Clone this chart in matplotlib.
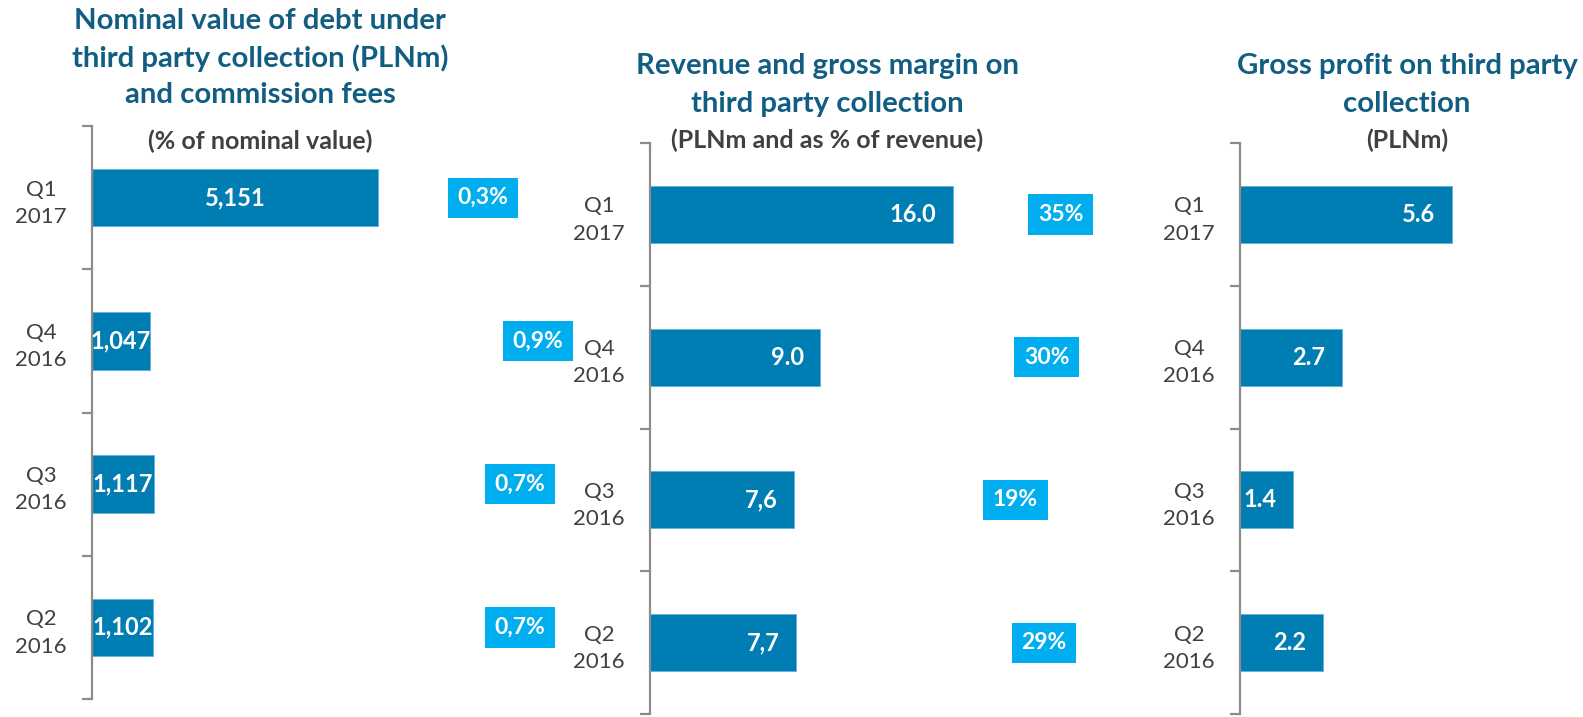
import matplotlib
matplotlib.use('Agg')
import matplotlib.pyplot as plt

W, H = 1583, 717
BAR = '#007DB2'
BOX = '#00AEEF'
TITLE = '#115E82'
GREY = '#404040'
AXIS = '#8C8C8C'

plt.rcParams['font.family'] = ['Lato', 'DejaVu Sans']

quarters = ['Q1\n2017', 'Q4\n2016', 'Q3\n2016', 'Q2\n2016']

nominal_debt = [5151, 1047, 1117, 1102]
nominal_labels = ['5,151', '1,047', '1,117', '1,102']
commission_pct = [0.3, 0.9, 0.7, 0.7]
commission_labels = ['0,3%', '0,9%', '0,7%', '0,7%']

revenue = [16.0, 9.0, 7.6, 7.7]
revenue_labels = ['16.0', '9.0', '7,6', '7,7']
margin_pct = [35, 30, 19, 29]
margin_labels = ['35%', '30%', '19%', '29%']

gross_profit = [5.6, 2.7, 1.4, 2.2]
gross_profit_labels = ['5.6', '2.7', '1.4', '2.2']

titles = [
    (['Nominal value of debt under', 'third party collection (PLNm)', 'and commission fees'],
     '(% of nominal value)', 260, [21, 58, 95], 141),
    (['Revenue and gross margin on', 'third party collection'],
     '(PLNm and as % of revenue)', 827, [66, 104], 140),
    (['Gross profit on third party', 'collection'],
     '(PLNm)', 1407, [66, 104], 140),
]

fig = plt.figure(figsize=(W / 100, H / 100), dpi=100)


def panel(left, right, top, bottom, xmax, values, labels, centred,
          pct=None, pct_labels=None, pct_lim=None):
    ax = fig.add_axes([left / W, 1 - bottom / H, (right - left) / W, (bottom - top) / H])
    pos = list(range(len(values)))
    ax.barh(pos, values, height=0.4, color=BAR, edgecolor='#5FB3DA', linewidth=0.6)
    ax.set_xlim(0, xmax)
    ax.set_ylim(len(values) - 0.5, -0.5)
    for s in ['top', 'right', 'bottom']:
        ax.spines[s].set_visible(False)
    ax.spines['left'].set_color(AXIS)
    ax.spines['left'].set_linewidth(1.6)
    ax.set_xticks([])
    ax.set_yticks(pos)
    ax.set_yticklabels(quarters, fontsize=16, color=GREY)
    for t in ax.get_yticklabels():
        t.set_multialignment('center')
        t.set_linespacing(1.45)
    ax.set_yticks([p - 0.5 for p in pos] + [pos[-1] + 0.5], minor=True)
    ax.tick_params(axis='y', which='major', length=0, pad=18)
    ax.tick_params(axis='y', which='minor', length=7, width=1.6, color=AXIS)
    for i, (v, lbl) in enumerate(zip(values, labels)):
        if centred:
            ax.text(v / 2, i, lbl, ha='center', va='center', color='white',
                    fontsize=17, fontweight='bold')
        else:
            ax.annotate(lbl, (v, i), xytext=(-12, 0), textcoords='offset points',
                        ha='right', va='center', color='white',
                        fontsize=17, fontweight='bold')
    if pct is not None:
        tw = ax.twiny()
        tw.set_xlim(*pct_lim)
        tw.set_axis_off()
        for i, (p, lbl) in enumerate(zip(pct, pct_labels)):
            tw.text(p, i, lbl, ha='center', va='center', color='white',
                    fontsize=16.5, fontweight='bold',
                    bbox=dict(boxstyle='square,pad=0.42', fc=BOX, ec='none'))
    return ax


# panel 1: 286 px per 5151, percent boxes at x = 454.8 + 92.6 * p
p1_l, p1_r = 92, 600
panel(p1_l, p1_r, 126, 699, (p1_r - p1_l) / 286 * 5151, nominal_debt, nominal_labels, True,
      commission_pct, commission_labels,
      ((p1_l - 454.8) / 92.6, (p1_r - 454.8) / 92.6))

# panel 2: 303 px per 16.0, percent boxes at x = 962 + 2.82 * p
p2_l, p2_r = 650, 1150
panel(p2_l, p2_r, 143, 714, (p2_r - p2_l) / 303 * 16, revenue, revenue_labels, False,
      margin_pct, margin_labels,
      ((p2_l - 962) / 2.82, (p2_r - 962) / 2.82))

# panel 3: 212 px per 5.6
p3_l, p3_r = 1240, 1583
panel(p3_l, p3_r, 143, 714, (p3_r - p3_l) / 212 * 5.6, gross_profit, gross_profit_labels, False)

for lines, sub, cx, ys, sy in titles:
    for line, y in zip(lines, ys):
        fig.text(cx / W, 1 - y / H, line, ha='center', va='center', color=TITLE,
                 fontsize=21.2, fontweight='bold')
    fig.text(cx / W, 1 - sy / H, sub, ha='center', va='center', color=GREY,
             fontsize=18, fontweight='bold')

fig.savefig('out.png', dpi=100)
plt.close(fig)
